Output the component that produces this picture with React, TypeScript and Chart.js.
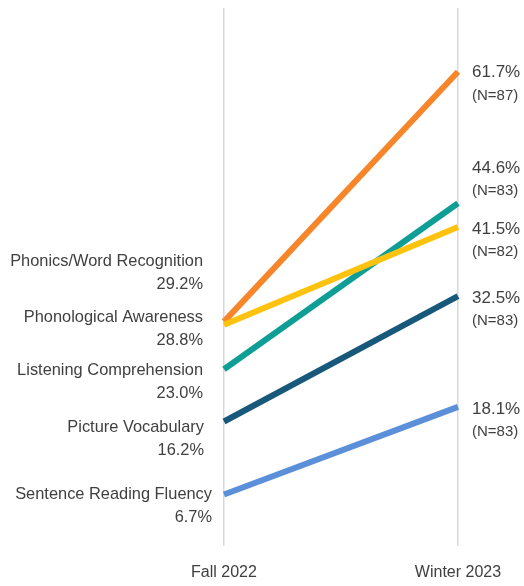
import React, { useEffect, useRef } from "react";
import { Chart, registerables } from "chart.js";

Chart.register(...registerables);

const periods = ["Fall 2022", "Winter 2023"];
const skills = [
  "Phonics/Word Recognition",
  "Phonological Awareness",
  "Listening Comprehension",
  "Picture Vocabulary",
  "Sentence Reading Fluency",
];
const fallValues = [29.2, 28.8, 23.0, 16.2, 6.7];
const winterValues = [61.7, 41.5, 44.6, 32.5, 18.1];
const winterN = [87, 82, 83, 83, 83];

const colors = ["#F7862B", "#FFC20E", "#0E9E96", "#18587A", "#5B8FD9"];
// drawing order: lower index on top (yellow above orange and teal)
const drawOrder = [1, 0, 2, 3, 4];
// label nudges (layout only)
const leftShift = [-60, -7, 1, 6, 0];
const leftDx = [0, 0, 0, 1, 9];
const rightShift = [1, 2, -35, 2, 2];

const TEXT = "#404040";
const FONT = "'Liberation Sans', Arial, sans-serif";

const labelPlugin = {
  id: "slopeLabels",
  afterDatasetsDraw(chart: any) {
    const ctx = chart.ctx;
    ctx.save();
    ctx.fillStyle = TEXT;
    ctx.textBaseline = "middle";
    chart.data.datasets.forEach((ds: any, di: number) => {
      const meta = chart.getDatasetMeta(di);
      const k = ds.skillIndex;
      const p0 = meta.data[0];
      const p1 = meta.data[1];
      // left labels
      ctx.textAlign = "right";
      ctx.font = `16.4px ${FONT}`;
      const lx = p0.x - 21 + leftDx[k];
      const ly = p0.y + leftShift[k];
      ctx.fillText(skills[k], lx, ly);
      ctx.fillText(fallValues[k].toFixed(1) + "%", lx, ly + 23);
      // right labels
      ctx.textAlign = "left";
      const rx = p1.x + 14;
      const ry = p1.y + rightShift[k];
      ctx.font = `17px ${FONT}`;
      ctx.fillText(winterValues[k].toFixed(1) + "%", rx, ry);
      ctx.font = `15px ${FONT}`;
      ctx.fillText(`(N=${winterN[k]})`, rx, ry + 23);
    });
    ctx.restore();
  },
};

export default function App() {
  const ref = useRef<HTMLCanvasElement | null>(null);
  useEffect(() => {
    if (!ref.current) return;
    const datasets = drawOrder.map((k) => ({
      label: skills[k],
      skillIndex: k,
      data: [fallValues[k], winterValues[k]],
      borderColor: colors[k],
      backgroundColor: colors[k],
      borderWidth: 6,
      borderCapStyle: "butt",
      pointRadius: 0,
      pointHoverRadius: 0,
      tension: 0,
    }));
    const chart = new Chart(ref.current, {
      type: "line",
      data: { labels: periods, datasets: datasets as any },
      options: {
        animation: false,
        responsive: true,
        maintainAspectRatio: false,
        layout: { padding: { left: 224, right: 66, top: 8, bottom: 0 } },
        plugins: {
          legend: { display: false },
          tooltip: { enabled: false },
          title: { display: false },
        },
        scales: {
          x: {
            type: "category",
            offset: false,
            border: { display: false },
            grid: { display: true, color: "#D9D9D9", lineWidth: 1.5, drawTicks: false },
            ticks: {
              color: TEXT,
              padding: 17,
              font: { family: FONT, size: 16 },
              maxRotation: 0,
            },
            afterFit: (scale: any) => {
              scale.height = 40;
            },
          },
          y: {
            display: false,
            min: 0,
            max: 70,
          },
        },
      },
      plugins: [labelPlugin],
    });
    return () => chart.destroy();
  }, []);
  return (
    <div style={{ position: "absolute", left: 0, top: 0, width: 524, height: 586, background: "#fff" }}>
      <canvas ref={ref} />
    </div>
  );
}
